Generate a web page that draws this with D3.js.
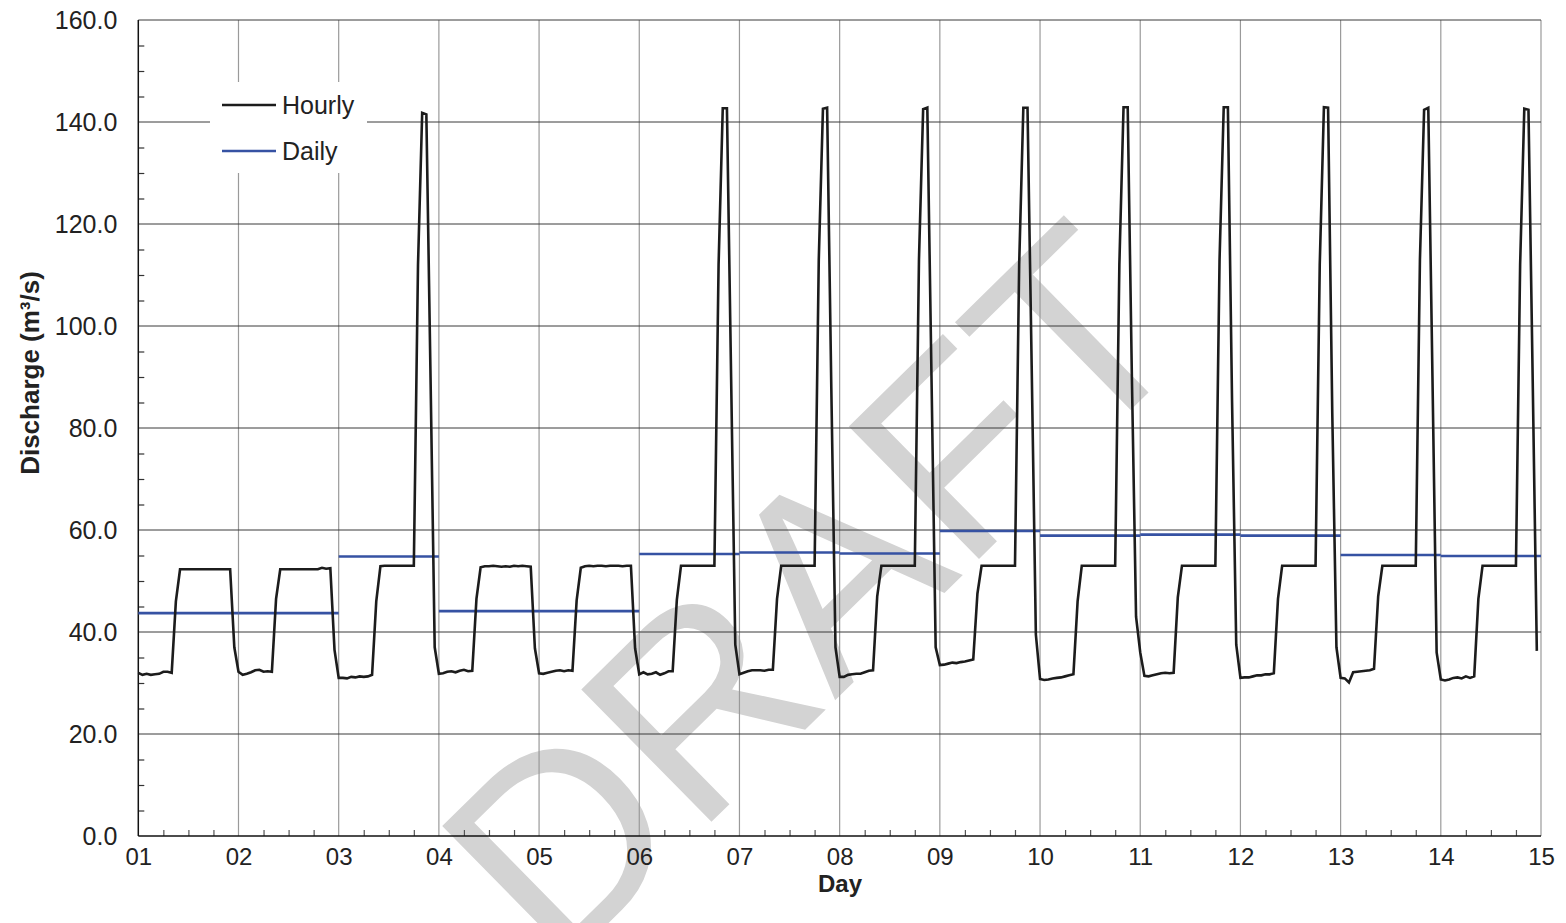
<!DOCTYPE html>
<html>
<head>
<meta charset="utf-8">
<script src="https://cdn.jsdelivr.net/npm/d3@7"></script>
<style>
  html, body { margin: 0; padding: 0; background: #fff; overflow: hidden; }
  svg { display: block; font-family: "Liberation Sans", Arial, sans-serif; }
</style>
</head>
<body>
<svg id="chart" width="1566" height="923"></svg>
<script>
// Day labels on the x axis (day boundaries)
const dayLabels = ["01","02","03","04","05","06","07","08","09","10","11","12","13","14","15"];

// Hourly discharge (m³/s), one row of 24 values per day
const hourlyDay01 = [32.0,31.6,31.8,31.6,31.7,31.8,32.2,32.2,32.0,46.0,52.3,52.3,52.3,52.3,52.3,52.3,52.3,52.3,52.3,52.3,52.3,52.3,52.3,37.0];
const hourlyDay02 = [32.2,31.6,31.8,32.1,32.5,32.6,32.2,32.3,32.2,46.5,52.3,52.3,52.3,52.3,52.3,52.3,52.3,52.3,52.3,52.3,52.6,52.4,52.5,36.5];
const hourlyDay03 = [31.0,31.0,30.9,31.2,31.1,31.3,31.2,31.3,31.6,46.0,52.9,53.0,53.0,53.0,53.0,53.0,53.0,53.0,53.0,112.0,141.8,141.5,90.0,37.0];
const hourlyDay04 = [31.8,31.9,32.2,32.3,32.1,32.4,32.6,32.3,32.4,46.5,52.7,52.9,52.9,53.0,52.9,52.8,52.9,52.8,53.0,52.9,53.0,52.9,52.8,36.8];
const hourlyDay05 = [31.9,31.8,32.0,32.2,32.4,32.5,32.3,32.5,32.4,46.2,52.6,52.9,53.0,52.9,53.0,53.0,52.9,53.0,53.0,53.0,52.9,53.0,53.0,36.8];
const hourlyDay06 = [31.7,32.1,31.7,31.8,32.1,31.6,31.9,32.3,32.3,46.3,53.0,53.0,53.0,53.0,53.0,53.0,53.0,53.0,53.0,112.0,142.7,142.7,90.0,37.5];
const hourlyDay07 = [31.7,32.0,32.3,32.5,32.5,32.5,32.4,32.6,32.6,46.5,53.0,53.0,53.0,53.0,53.0,53.0,53.0,53.0,53.0,113.0,142.6,142.8,88.0,37.0];
const hourlyDay08 = [31.2,31.2,31.6,31.7,31.8,31.8,32.1,32.4,32.5,47.0,53.0,53.0,53.0,53.0,53.0,53.0,53.0,53.0,53.0,113.0,142.5,142.8,90.0,37.0];
const hourlyDay09 = [33.5,33.6,33.8,34.0,33.9,34.1,34.2,34.4,34.6,47.5,53.0,53.0,53.0,53.0,53.0,53.0,53.0,53.0,53.0,112.0,142.8,142.8,92.0,39.5];
const hourlyDay10 = [30.8,30.6,30.7,30.9,31.0,31.1,31.3,31.5,31.7,46.0,53.0,53.0,53.0,53.0,53.0,53.0,53.0,53.0,53.0,112.0,142.9,142.9,90.0,43.0];
const hourlyDay11 = [36.0,31.4,31.3,31.5,31.7,31.9,32.0,31.9,32.0,46.8,53.0,53.0,53.0,53.0,53.0,53.0,53.0,53.0,53.0,113.0,142.9,142.9,85.0,37.5];
const hourlyDay12 = [31.0,31.1,31.1,31.3,31.5,31.5,31.7,31.7,31.9,46.5,53.0,53.0,53.0,53.0,53.0,53.0,53.0,53.0,53.0,112.0,142.9,142.8,83.0,37.0];
const hourlyDay13 = [31.0,30.9,30.1,32.1,32.2,32.3,32.4,32.5,32.8,47.0,53.0,53.0,53.0,53.0,53.0,53.0,53.0,53.0,53.0,113.0,142.4,142.8,90.0,36.0];
const hourlyDay14 = [30.7,30.5,30.7,31.0,31.1,30.9,31.3,31.0,31.3,46.5,53.0,53.0,53.0,53.0,53.0,53.0,53.0,53.0,53.0,112.0,142.6,142.4,90.0,36.3];

const hourlyByDay = [hourlyDay01,hourlyDay02,hourlyDay03,hourlyDay04,hourlyDay05,hourlyDay06,hourlyDay07,
                     hourlyDay08,hourlyDay09,hourlyDay10,hourlyDay11,hourlyDay12,hourlyDay13,hourlyDay14];

// Daily mean discharge (m³/s)
const dailyMean = [43.7,43.7,54.8,44.1,44.1,55.3,55.6,55.4,59.8,58.9,59.1,58.9,55.1,54.9];

// Y axis ticks
const yTicks = [0,20,40,60,80,100,120,140,160];

// Series labels
const seriesNames = ["Hourly","Daily"];

const plot = { left: 138.3, right: 1541, top: 20, bottom: 836 };

const svg = d3.select("#chart");

const x = d3.scaleLinear().domain([0, 14]).range([plot.left, plot.right]);
const y = d3.scaleLinear().domain([0, 160]).range([plot.bottom, plot.top]);

// Watermark, clipped to the page
svg.append("clipPath").attr("id", "page-clip")
  .append("rect").attr("x", 0).attr("y", 0).attr("width", 1566).attr("height", 923);
svg.append("g").attr("clip-path", "url(#page-clip)")
  .append("text")
  .attr("transform", "translate(812,592) rotate(-44.5)")
  .attr("text-anchor", "middle")
  .attr("dominant-baseline", "central")
  .attr("font-size", 270)
  .attr("fill", "#d3d3d3")
  .text("DRAFT");

// Vertical grid lines at each day
svg.append("g")
  .selectAll("line")
  .data(d3.range(1, 15))
  .join("line")
  .attr("x1", d => x(d)).attr("x2", d => x(d))
  .attr("y1", plot.top).attr("y2", plot.bottom)
  .attr("stroke", "#9a9a9a")
  .attr("stroke-width", 1.2);

// Horizontal grid lines
svg.append("g")
  .selectAll("line")
  .data(yTicks.slice(1))
  .join("line")
  .attr("x1", plot.left).attr("x2", plot.right)
  .attr("y1", d => y(d)).attr("y2", d => y(d))
  .attr("stroke", "#3a3a3a")
  .attr("stroke-width", 1);

// Y axis with inward minor ticks every 5
const yAxis = d3.axisRight(y)
  .tickValues(d3.range(0, 161, 5).filter(v => v % 20 !== 0))
  .tickSize(6)
  .tickFormat("");
const gy = svg.append("g").attr("transform", `translate(${plot.left},0)`).call(yAxis);
gy.select(".domain").remove();
gy.selectAll("line").attr("stroke", "#333").attr("stroke-width", 1.2);

// Y tick labels
const yLabAxis = d3.axisLeft(y).tickValues(yTicks).tickSize(0).tickPadding(21).tickFormat(d3.format(".1f"));
const gyl = svg.append("g").attr("transform", `translate(${plot.left},0)`).call(yLabAxis);
gyl.select(".domain").remove();
gyl.selectAll("text")
  .attr("font-size", 25)
  .attr("font-family", "Liberation Sans, Arial, sans-serif")
  .attr("fill", "#222");

// X axis minor ticks every 6 hours, inward
const xAxis = d3.axisTop(x)
  .tickValues(d3.range(0, 14.001, 0.25).filter(v => Math.abs(v - Math.round(v)) > 1e-6))
  .tickSize(6)
  .tickFormat("");
const gx = svg.append("g").attr("transform", `translate(0,${plot.bottom})`).call(xAxis);
gx.select(".domain").remove();
gx.selectAll("line").attr("stroke", "#555").attr("stroke-width", 1.2);

// X tick labels
const xLabAxis = d3.axisBottom(x).tickValues(d3.range(0, 15)).tickSize(0).tickPadding(12)
  .tickFormat(i => dayLabels[i]);
const gxl = svg.append("g").attr("transform", `translate(0,${plot.bottom})`).call(xLabAxis);
gxl.select(".domain").remove();
gxl.selectAll("text")
  .attr("font-size", 24)
  .attr("font-family", "Liberation Sans, Arial, sans-serif")
  .attr("fill", "#222");

// Axis frame
svg.append("line")
  .attr("x1", plot.left).attr("x2", plot.left)
  .attr("y1", plot.top).attr("y2", plot.bottom)
  .attr("stroke", "#111").attr("stroke-width", 1.5);
svg.append("line")
  .attr("x1", plot.left).attr("x2", plot.right)
  .attr("y1", plot.bottom).attr("y2", plot.bottom)
  .attr("stroke", "#111").attr("stroke-width", 1.5);

// Daily mean segments
svg.append("g")
  .selectAll("line")
  .data(dailyMean)
  .join("line")
  .attr("x1", (d, i) => x(i)).attr("x2", (d, i) => x(i + 1))
  .attr("y1", d => y(d)).attr("y2", d => y(d))
  .attr("stroke", "#3652a3")
  .attr("stroke-width", 2.6);

// Hourly series
const hourlyPoints = hourlyByDay.flatMap((row, di) => row.map((v, h) => ({ t: di + h / 24, v })));
svg.append("path")
  .datum(hourlyPoints)
  .attr("fill", "none")
  .attr("stroke", "#1c1c1c")
  .attr("stroke-width", 2.6)
  .attr("stroke-linejoin", "miter")
  .attr("d", d3.line().x(d => x(d.t)).y(d => y(d.v)));

// Legend
const lg = svg.append("g");
lg.append("rect").attr("x", 210).attr("y", 82).attr("width", 157).attr("height", 91).attr("fill", "#fff");
const legendColors = ["#1c1c1c", "#3652a3"];
seriesNames.forEach((name, i) => {
  const ly = 105 + i * 46;
  lg.append("line").attr("x1", 222).attr("x2", 276).attr("y1", ly).attr("y2", ly)
    .attr("stroke", legendColors[i]).attr("stroke-width", 2.6);
  lg.append("text").attr("x", 282).attr("y", ly).attr("dy", "0.35em")
    .attr("font-size", 25).attr("fill", "#222").text(name);
});

// Axis titles
svg.append("text")
  .attr("x", 840).attr("y", 892)
  .attr("text-anchor", "middle")
  .attr("font-size", 24).attr("font-weight", "bold").attr("fill", "#222")
  .text("Day");

svg.append("text")
  .attr("transform", "translate(39,373) rotate(-90)")
  .attr("text-anchor", "middle")
  .attr("font-size", 26).attr("font-weight", "bold").attr("fill", "#222")
  .text("Discharge (m³/s)");
</script>
</body>
</html>
